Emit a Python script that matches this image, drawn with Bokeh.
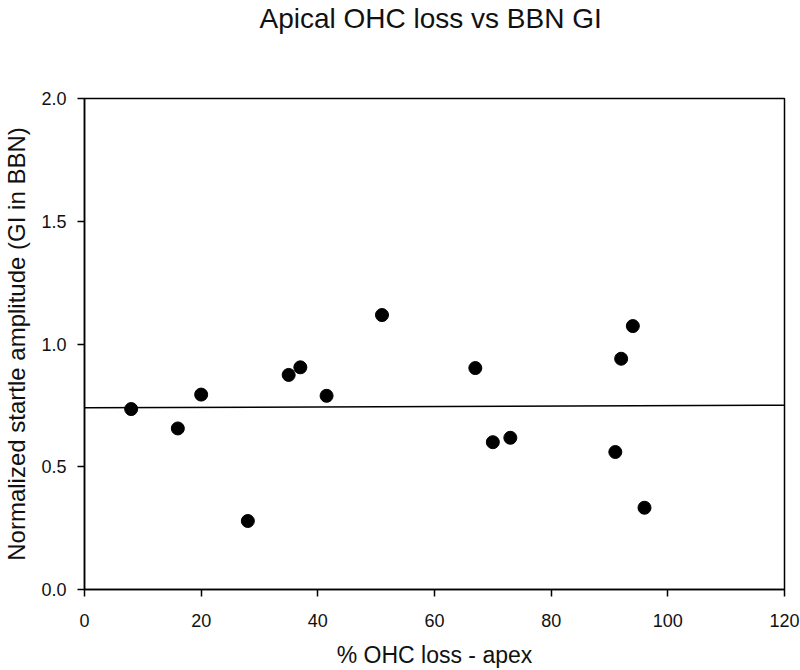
from bokeh.plotting import figure
from bokeh.models import FixedTicker, Range1d, Title
from bokeh.embed import file_html
from bokeh.resources import INLINE

# Data
ohc_loss = [8, 16, 20, 28, 35, 37, 41.5, 51, 67, 70, 73, 91, 92, 94, 96]
startle_gi = [0.735, 0.656, 0.794, 0.279, 0.874, 0.905, 0.789, 1.118,
              0.902, 0.600, 0.618, 0.560, 0.940, 1.073, 0.333]

# Regression line
fit_x = [0, 120]
fit_y = [0.740, 0.751]

x_ticks = [0, 20, 40, 60, 80, 100, 120]
x_tick_labels = ["0", "20", "40", "60", "80", "100", "120"]
y_ticks = [0.0, 0.5, 1.0, 1.5, 2.0]
y_tick_labels = ["0.0", "0.5", "1.0", "1.5", "2.0"]

title_text = "Apical OHC loss vs  BBN GI"

FONT = "Liberation Sans"

p = figure(width=800, height=670, output_backend="svg", toolbar_location=None,
           title=None,
           x_range=Range1d(0, 120), y_range=Range1d(0, 2.0),
           min_border_left=83, min_border_right=16, min_border_top=97,
           min_border_bottom=81)

# spacer panel between frame and title (pushes title to top of page)
p.add_layout(Title(text=" ", text_font_size="10px", standoff=52), "above")
p.add_layout(Title(text=title_text, text_font=FONT, text_font_size="28px",
                   text_font_style="normal", align="center", standoff=0,
                   text_color="#111111"), "above")

p.xgrid.visible = False
p.ygrid.visible = False
p.outline_line_color = "black"
p.outline_line_width = 1.5
p.outline_line_alpha = 1.0

p.line(fit_x, fit_y, line_color="black", line_width=1.5)
p.scatter(ohc_loss, startle_gi, size=13, marker="circle",
          fill_color="black", line_color="black")

for ax in (p.xaxis[0], p.yaxis[0]):
    ax.axis_line_width = 1.5
    ax.axis_line_color = "black"
    ax.major_tick_line_width = 1.5
    ax.major_tick_line_color = "black"
    ax.major_tick_out = 7
    ax.major_tick_in = 0
    ax.minor_tick_out = 0
    ax.minor_tick_in = 0
    ax.major_label_text_font = FONT
    ax.major_label_text_font_size = "18px"
    ax.major_label_text_color = "#111111"
    ax.axis_label_text_font = FONT
    ax.axis_label_text_font_style = "normal"
    ax.axis_label_text_color = "#111111"

p.xaxis.axis_label_text_font_size = "23px"
p.yaxis.axis_label_text_font_size = "24px"

p.xaxis.ticker = FixedTicker(ticks=x_ticks)
p.xaxis.major_label_overrides = dict(zip(x_ticks, x_tick_labels))
p.yaxis.ticker = FixedTicker(ticks=y_ticks)
p.yaxis.major_label_overrides = dict(zip(y_ticks, y_tick_labels))

p.xaxis.axis_label = "% OHC loss - apex"
p.yaxis.axis_label = "Normalized startle amplitude (GI in BBN)"
p.xaxis.major_label_standoff = 17
p.xaxis.axis_label_standoff = 12
p.yaxis.major_label_standoff = 11
p.yaxis.axis_label_standoff = 8

open("out.html", "w").write(file_html(p, INLINE))
